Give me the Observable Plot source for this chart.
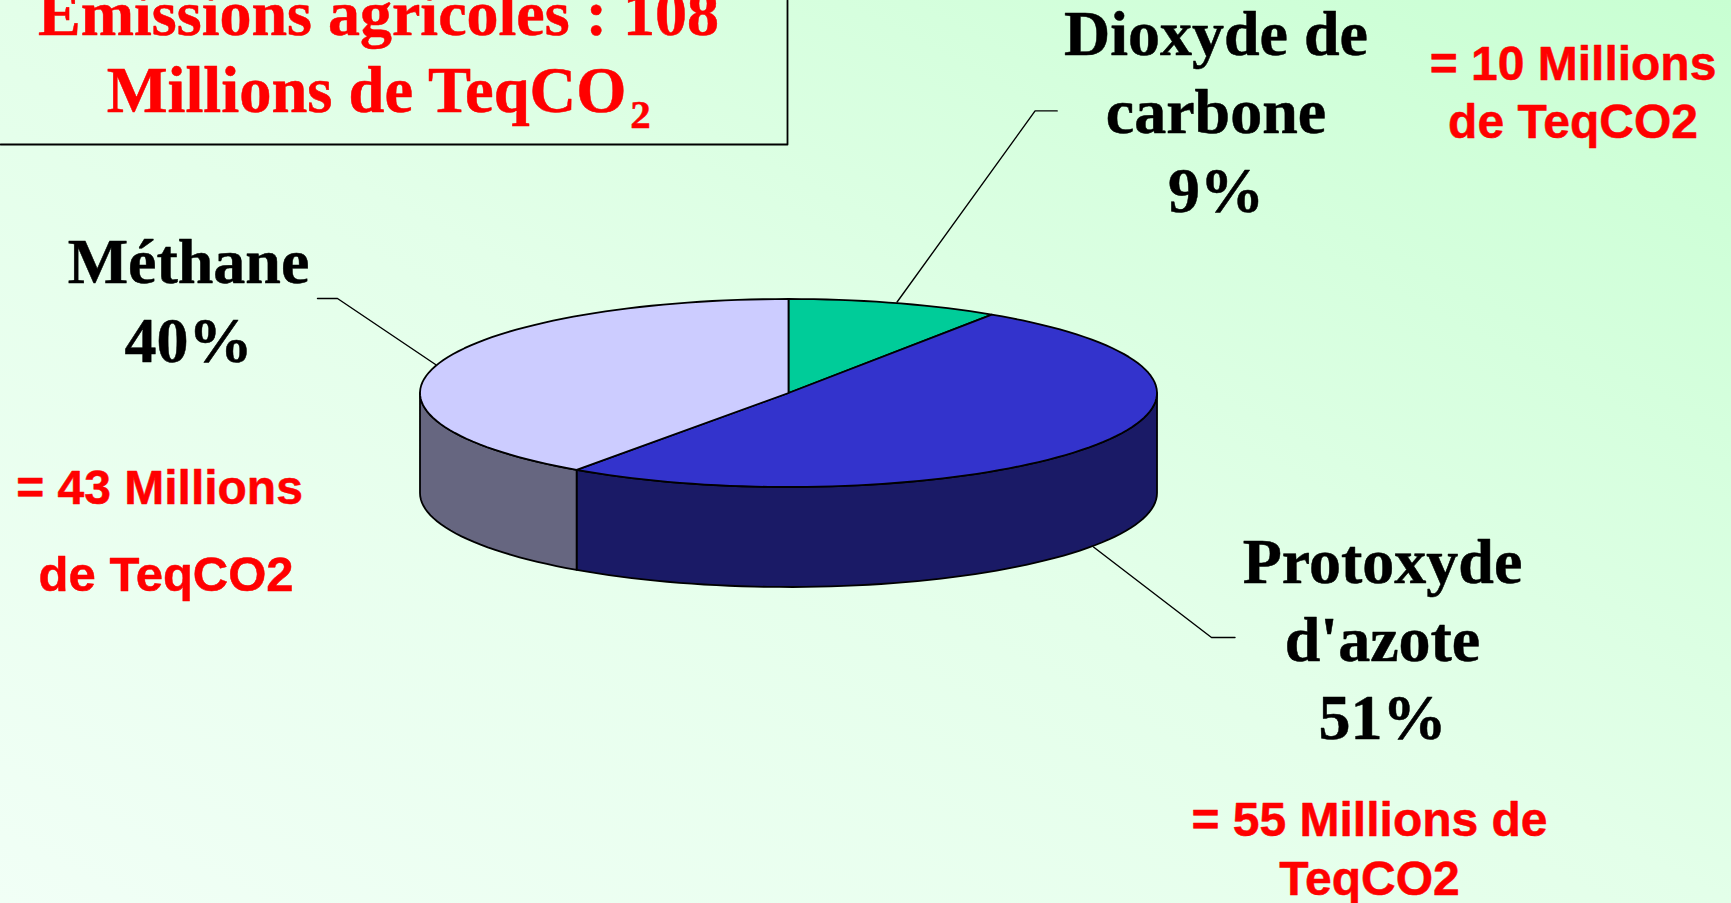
<!DOCTYPE html>
<html lang="fr">
<head>
<meta charset="utf-8">
<title>Émissions agricoles</title>
<script src="https://cdn.jsdelivr.net/npm/d3@7"></script>
<script src="https://cdn.jsdelivr.net/npm/@observablehq/plot@0.6"></script>
<style>
html,body{margin:0;padding:0;width:1731px;height:903px;overflow:hidden;
background:linear-gradient(to top right,#f1fff6 0%,#e3ffe9 50%,#c8ffd2 100%);}
svg{display:block;}
</style>
</head>
<body>
<div id="chart"></div>
<script>
const gases = ["Dioxyde de carbone", "Protoxyde d'azote", "Méthane"];
const shares = [9.3, 50.45, 40.25];
const topColors = ["#00cc99", "#3333cc", "#ccccff"];
const sideColors = ["#006650", "#1a1a66", "#666680"];
const titleLine1 = ["Émissions agricoles : 108"];
const titleLine2 = ["Millions de TeqCO"];
const titleSub = ["2"];
const co2Label = ["Dioxyde de", "carbone", "9%"];
const n2oLabel = ["Protoxyde", "d'azote", "51%"];
const ch4Label = ["Méthane", "40%"];
const co2Note = ["= 10 Millions", "de TeqCO2"];
const ch4Note1 = ["= 43 Millions"];
const ch4Note2 = ["de TeqCO2"];
const n2oNote = ["= 55 Millions de", "TeqCO2"];

const cx = 788, cy = 392.5, rx = 368.5, ry = 94, depth = 100;
const pt = (a, dz = 0) => ({x: cx + rx * Math.sin(a), y: cy - ry * Math.cos(a) + dz});
const arc = (a0, a1, dz = 0) => {
  const n = Math.max(2, Math.ceil(Math.abs(a1 - a0) / 0.035));
  return d3.range(n + 1).map(i => pt(a0 + (a1 - a0) * i / n, dz));
};
const arcs = d3.pie().sort(null).startAngle(0).endAngle(2 * Math.PI)(shares);

const marks = [];
const serif = "'Liberation Serif','Times New Roman',serif";
const sans = "'Liberation Sans',Arial,sans-serif";
const label = (lines, x, y, size, fill, family, lh) =>
  Plot.text([lines.join("\n")], {x: () => x, y: () => y, text: d => d, fontFamily: family,
    fontWeight: "bold", fontSize: size, fill, stroke: fill, strokeWidth: 0.5, lineHeight: lh, lineAnchor: "bottom", textAnchor: "middle"});
const path = (pts, strokeWidth) => Plot.line(pts, {x: "x", y: "y", stroke: "#000", strokeWidth, curve: "linear"});

// leader lines
const leaders = [
  [{x: 896.6, y: 301.5}, {x: 1034.6, y: 110.4}, {x: 1056.7, y: 110.4}],
  [{x: 435, y: 364}, {x: 337, y: 298}, {x: 317, y: 298}],
  [{x: 1093, y: 546.5}, {x: 1211, y: 637}, {x: 1234.5, y: 637}]
];
leaders.forEach(l => marks.push(path(l, 1.4)));

// side walls: only the front half of the disc shows
arcs.forEach((s, i) => {
  const a0 = Math.max(s.startAngle, Math.PI / 2), a1 = Math.min(s.endAngle, 3 * Math.PI / 2);
  if (a1 <= a0) return;
  const poly = [...arc(a0, a1), ...arc(a1, a0, depth)];
  marks.push(Plot.line(poly, {x: "x", y: "y", fill: sideColors[i], stroke: "#000", strokeWidth: 1.8, curve: "linear-closed"}));
});
// top slices
arcs.forEach((s, i) => {
  const poly = [{x: cx, y: cy}, ...arc(s.startAngle, s.endAngle)];
  marks.push(Plot.line(poly, {x: "x", y: "y", fill: topColors[i], stroke: "#000", strokeWidth: 1.8, curve: "linear-closed"}));
});

// title frame
marks.push(path([{x: 0, y: 144}, {x: 787, y: 144}, {x: 787, y: 0}], 1.8));

marks.push(label(titleLine1, 378, 34, 64, "#ff0000", serif, 1));
marks.push(label(titleLine2, 366, 111, 64.5, "#ff0000", serif, 1));
marks.push(label(titleSub, 640, 127, 41, "#ff0000", serif, 1));
marks.push(label(co2Label, 1215.5, 211, 64, "#000", serif, 1.219));
marks.push(label(n2oLabel, 1382, 738.5, 64, "#000", serif, 1.219));
marks.push(label(ch4Label, 188, 361, 64, "#000", serif, 1.219));
marks.push(label(co2Note, 1572.5, 137, 48, "#ff0000", sans, 1.19));
marks.push(label(ch4Note1, 159, 503.5, 48, "#ff0000", sans, 1));
marks.push(label(ch4Note2, 165.6, 590, 49, "#ff0000", sans, 1));
marks.push(label(n2oNote, 1369, 894, 48, "#ff0000", sans, 1.21));

const chart = Plot.plot({
  width: 1731, height: 903,
  marginTop: 0, marginRight: 0, marginBottom: 0, marginLeft: 0,
  x: {type: "linear", domain: [0, 1731], range: [0, 1731], axis: null},
  y: {type: "linear", domain: [0, 903], range: [0, 903], axis: null},
  style: {background: "transparent"},
  marks
});
document.getElementById("chart").append(chart);
</script>
</body>
</html>
